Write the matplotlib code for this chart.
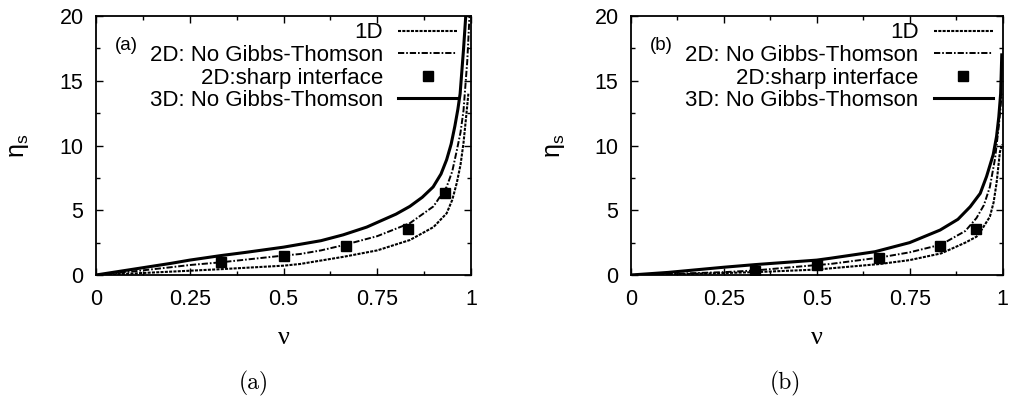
import matplotlib
matplotlib.use('Agg')
import matplotlib.pyplot as plt
from matplotlib.ticker import MultipleLocator

plt.rcParams['font.family'] = ['Liberation Sans', 'DejaVu Sans']
plt.rcParams['mathtext.fontset'] = 'custom'
plt.rcParams['mathtext.rm'] = 'Liberation Sans'
plt.rcParams['mathtext.it'] = 'Liberation Sans'
plt.rcParams['lines.scale_dashes'] = False

# ---------------- data: panel (a) ----------------
nu_1d_a = [0, 0.1, 0.25, 0.333, 0.5, 0.544, 0.659, 0.75, 0.837, 0.9, 0.935, 0.95, 0.962, 0.972, 0.98, 0.988, 0.993]
eta_1d_a = [0, 0.12, 0.33, 0.45, 0.72, 0.85, 1.4, 1.9, 2.7, 3.7, 4.76, 5.8, 7.1, 8.5, 10.2, 12.5, 14.0]

nu_2d_a = [0, 0.1, 0.2, 0.25, 0.333, 0.5, 0.544, 0.6, 0.659, 0.75, 0.837, 0.9, 0.935, 0.95, 0.962, 0.972, 0.98, 0.99, 0.996]
eta_2d_a = [0, 0.28, 0.6, 0.77, 0.98, 1.5, 1.62, 1.9, 2.3, 3.0, 4.0, 5.3, 6.8, 8.0, 9.6, 11.0, 12.7, 16.5, 20.0]

nu_3d_a = [0, 0.1, 0.2, 0.25, 0.333, 0.4, 0.5, 0.6, 0.659, 0.722, 0.757, 0.8, 0.837, 0.87, 0.899, 0.92, 0.935, 0.947, 0.957, 0.965, 0.971, 0.98, 0.986]
eta_3d_a = [0, 0.45, 0.9, 1.15, 1.5, 1.75, 2.15, 2.65, 3.1, 3.7, 4.15, 4.7, 5.3, 6.0, 6.8, 7.8, 8.9, 10.1, 11.5, 12.8, 14.0, 17.4, 20.0]

nu_sharp_a = [0.333, 0.5, 0.667, 0.833, 0.93]
eta_sharp_a = [0.98, 1.49, 2.25, 3.55, 6.3]

# ---------------- data: panel (b) ----------------
nu_1d_b = [0, 0.1, 0.25, 0.333, 0.5, 0.67, 0.75, 0.835, 0.9, 0.93, 0.944, 0.966, 0.976, 0.984, 0.993, 0.999]
eta_1d_b = [0, 0.05, 0.15, 0.22, 0.42, 0.85, 1.15, 1.67, 2.5, 2.96, 3.5, 4.5, 5.6, 7.1, 9.5, 10.1]

nu_2d_b = [0, 0.1, 0.25, 0.333, 0.5, 0.536, 0.67, 0.75, 0.835, 0.9, 0.93, 0.95, 0.966, 0.98, 0.99, 0.998]
eta_2d_b = [0, 0.08, 0.22, 0.35, 0.77, 0.85, 1.35, 1.75, 2.35, 3.4, 4.4, 5.4, 6.8, 9.0, 11.5, 14.0]

nu_3d_b = [0, 0.1, 0.25, 0.333, 0.5, 0.536, 0.657, 0.75, 0.832, 0.88, 0.913, 0.94, 0.957, 0.975, 0.984, 0.99, 0.995, 0.998]
eta_3d_b = [0, 0.2, 0.6, 0.8, 1.15, 1.29, 1.8, 2.5, 3.47, 4.3, 5.27, 6.3, 7.6, 9.3, 10.7, 12.2, 14.0, 17.0]

nu_sharp_b = [0.333, 0.5, 0.667, 0.833, 0.93]
eta_sharp_b = [0.33, 0.77, 1.29, 2.26, 3.55]

labels = ['1D', '2D: No Gibbs-Thomson', '2D:sharp interface', '3D: No Gibbs-Thomson']
x_ticks = [0, 0.25, 0.5, 0.75, 1]
x_ticklabels = ['0', '0.25', '0.5', '0.75', '1']
y_ticks = [0, 5, 10, 15, 20]
panel_tags = ['(a)', '(b)']
captions = ['(a)', '(b)']

W, H = 1013, 398
fig = plt.figure(figsize=(W / 100, H / 100), dpi=100)


def make_panel(rect, d1, d2, ds, d3, tag, legend_x):
    ax = fig.add_axes(rect)
    l1, = ax.plot(d1[0], d1[1], color='black', lw=1.5, dashes=(2.2, 0.9))
    l2, = ax.plot(d2[0], d2[1], color='black', lw=1.4, dashes=(4.5, 1.4, 1.2, 1.4))
    l3, = ax.plot(ds[0], ds[1], ls='none', marker='s', ms=7, color='black')
    l4, = ax.plot(d3[0], d3[1], color='black', lw=2.2)
    ax.set_xlim(0, 1)
    ax.set_ylim(0, 20)
    ax.set_xticks(x_ticks)
    ax.set_xticklabels(x_ticklabels)
    ax.set_yticks(y_ticks)
    ax.xaxis.set_minor_locator(MultipleLocator(0.125))
    ax.yaxis.set_minor_locator(MultipleLocator(2.5))
    ax.tick_params(which='both', direction='in', top=True, right=True, labelsize=15.5, width=1.0)
    ax.tick_params(which='major', length=5)
    ax.tick_params(which='minor', length=3)
    ax.tick_params(axis='x', pad=10)
    ax.tick_params(axis='y', pad=9)
    for s in ax.spines.values():
        s.set_linewidth(1.3)
    ax.set_xlabel('ν', family='Liberation Serif', fontsize=19)
    ax.xaxis.set_label_coords(0.5, -0.2)
    ax.set_ylabel(r'$\mathrm{\eta_s}$', fontsize=18, va='center')
    ax.yaxis.set_label_coords(-0.205, 0.5)
    ax.legend([l1, l2, l3, l4], labels, loc='upper right', bbox_to_anchor=(legend_x, 0.975),
              frameon=False, markerfirst=False, fontsize=16, handlelength=2.66,
              handletextpad=0.68, labelspacing=0.07, borderpad=0, borderaxespad=0)
    ax.text(0.05, 0.888, tag, transform=ax.transAxes, fontsize=13.5, ha='left', va='center')
    return ax


ax_a = make_panel([96 / W, 1 - 275 / H, 375 / W, 259 / H],
                  (nu_1d_a, eta_1d_a), (nu_2d_a, eta_2d_a), (nu_sharp_a, eta_sharp_a), (nu_3d_a, eta_3d_a),
                  panel_tags[0], 0.963)
ax_b = make_panel([631 / W, 1 - 275 / H, 371.5 / W, 259 / H],
                  (nu_1d_b, eta_1d_b), (nu_2d_b, eta_2d_b), (nu_sharp_b, eta_sharp_b), (nu_3d_b, eta_3d_b),
                  panel_tags[1], 0.974)

fig.text(254 / W, 1 - 383 / H, captions[0], family='cmr10', fontsize=17, ha='center', va='center')
fig.text(785 / W, 1 - 383 / H, captions[1], family='cmr10', fontsize=17, ha='center', va='center')

fig.savefig('out.png', dpi=100)
